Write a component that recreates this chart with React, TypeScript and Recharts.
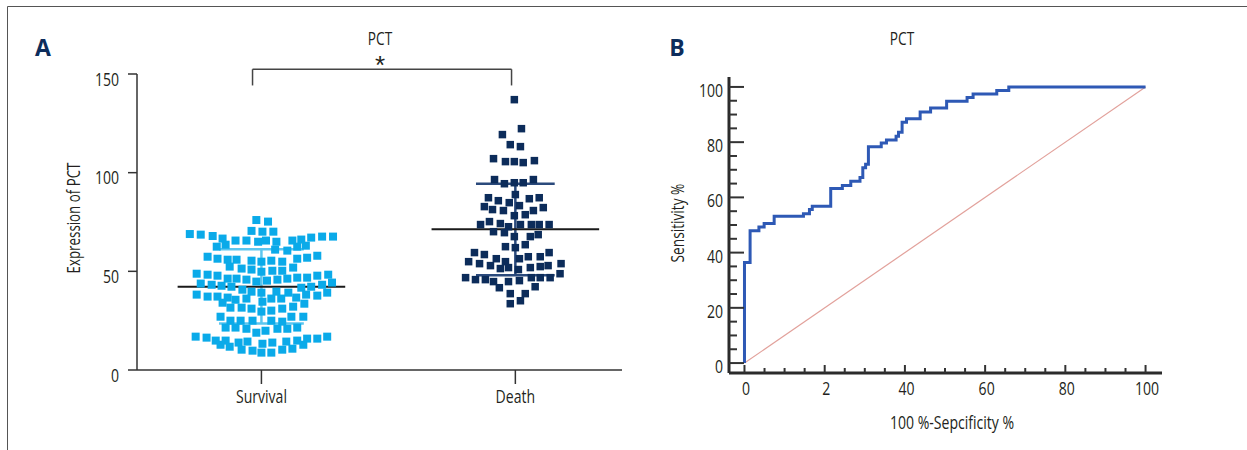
import React from 'react';
import { ScatterChart, Scatter, XAxis, YAxis, ReferenceLine, LineChart, Line } from 'recharts';

const FONT = '"Open Sans", "Noto Sans", sans-serif';
const SX = 0.74;
const TEXT = '#231f20';
const NAVY = '#0d2d5c';

// ---------- Panel A data ----------
const groupNames = ['Survival', 'Death'];
const groupTicks = [1, 2];
const yTicksA = [0, 50, 100, 150];

const survivalOffsets = [-0.020, 0.026, -0.039, 0.004, 0.047, -0.282, -0.239, -0.192, -0.153, -0.102, -0.059, -0.013, 0.018, 0.059, 0.122, 0.157, 0.196, 0.239, 0.282, -0.176, -0.141, 0.054, 0.102, 0.141, 0.175, -0.212, -0.173, -0.133, -0.098, -0.039, 0, 0.039, 0.082, 0.141, 0.180, 0.220, -0.125, -0.078, -0.039, 0, 0.043, 0.082, 0.125, -0.255, -0.212, -0.173, -0.133, -0.098, -0.059, -0.020, 0.022, 0.063, 0.102, 0.141, 0.180, 0.220, 0.263, -0.239, -0.196, -0.157, -0.118, 0.157, 0.196, 0.239, 0.278, -0.075, -0.039, 0, 0.059, 0.106, 0.137, 0.176, 0.220, 0.259, -0.255, -0.212, -0.173, -0.133, -0.102, -0.059, 0.004, 0.039, 0.078, -0.153, -0.122, -0.078, -0.039, 0, 0.039, 0.082, 0.125, 0.169, -0.161, -0.122, -0.082, -0.035, 0.039, 0.082, 0.118, 0.165, -0.141, -0.102, -0.059, -0.020, 0.016, 0.063, 0.102, 0.141, -0.259, -0.216, -0.180, -0.141, -0.161, -0.125, -0.090, -0.055, -0.078, -0.035, 0.004, 0.043, 0, 0.039, 0.082, 0.098, 0.141, 0.122, 0.165, 0.180, 0.220, 0.259];
const survivalValues = [76.0, 75.2, 70.5, 70.1, 70.1, 68.9, 68.6, 67.9, 66.6, 65.6, 65.6, 65.0, 65.6, 65.0, 65.6, 66.1, 67.1, 67.6, 67.6, 62.5, 63.5, 61.0, 60.5, 62.5, 63.0, 57.4, 56.4, 55.9, 55.9, 55.4, 54.9, 55.4, 54.9, 56.4, 56.9, 57.9, 52.4, 51.4, 50.9, 49.8, 50.3, 50.3, 51.9, 48.8, 48.3, 47.8, 46.3, 46.3, 45.8, 44.8, 45.3, 45.8, 46.3, 46.8, 46.8, 47.8, 48.3, 43.8, 43.2, 42.7, 42.2, 41.7, 42.2, 43.2, 44.3, 40.7, 39.7, 39.2, 39.7, 39.2, 36.7, 38.2, 37.7, 39.2, 38.2, 37.2, 37.2, 36.7, 35.6, 36.2, 34.6, 36.2, 36.2, 34.1, 31.6, 31.6, 31.1, 29.6, 30.1, 31.1, 32.1, 33.6, 27.0, 25.0, 25.0, 25.0, 25.0, 24.5, 27.0, 27.0, 21.5, 21.5, 20.9, 18.9, 19.9, 20.9, 20.9, 21.5, 16.9, 16.4, 14.9, 14.9, 12.8, 11.8, 13.9, 14.4, 10.3, 9.8, 13.3, 13.9, 8.8, 8.8, 10.3, 14.4, 14.9, 10.8, 12.8, 15.9, 15.9, 16.9];

const deathOffsets = [-0.004, 0.024, -0.051, -0.020, 0.020, -0.086, -0.039, -0.004, 0.031, 0.075, -0.082, -0.043, -0.004, 0.031, 0.071, 0, -0.106, -0.067, -0.024, 0.055, 0.094, -0.122, -0.090, -0.047, 0.016, 0.071, 0.110, -0.004, 0.039, -0.137, -0.102, -0.059, -0.027, 0.020, 0.063, 0.094, 0.133, -0.086, -0.043, -0.004, 0.059, 0.090, -0.039, 0, 0.039, -0.161, -0.122, -0.184, -0.141, -0.098, -0.075, -0.039, -0.059, -0.027, 0.016, 0.051, 0.098, 0.133, 0.180, 0.059, 0.098, 0.129, 0.012, -0.196, -0.157, -0.118, -0.086, -0.063, -0.027, 0.016, 0.063, 0.098, 0.137, 0.176, 0.078, -0.020, 0.039, -0.020, 0.020];
const deathValues = [137.0, 122.3, 119.3, 114.2, 113.2, 107.1, 105.6, 105.6, 105.1, 106.1, 96.5, 94.4, 94.9, 94.9, 96.5, 88.9, 87.3, 85.8, 84.8, 86.8, 87.3, 82.8, 81.3, 80.8, 83.3, 80.8, 82.3, 78.2, 78.7, 73.7, 75.2, 74.2, 72.6, 73.7, 73.7, 73.7, 73.7, 70.1, 69.6, 67.6, 67.6, 68.6, 62.5, 62.0, 63.5, 59.5, 58.5, 54.9, 53.9, 52.9, 56.4, 54.9, 51.4, 51.9, 56.4, 57.4, 57.4, 59.5, 53.9, 51.9, 52.4, 52.9, 50.9, 46.8, 45.8, 45.8, 44.8, 41.7, 44.8, 45.3, 46.8, 46.8, 46.8, 48.8, 42.2, 38.7, 38.7, 33.6, 35.1];

// mean, lower SD bound, upper SD bound
const survivalStats = [42.2, 23.6, 61.2];
const deathStats = [71.3, 48.0, 94.4];
const meanHalf = 0.33;
const sdHalf = [0.167, 0.155];

// significance bracket (x from, x to, y top, y drop)
const bracket = [0.965, 1.985, 152.4, 144.2];

// ---------- Panel B data ----------
const rocFpr = [0, 0, 1.4, 3.6, 4.9, 7.4, 14.7, 16.2, 16.9, 21.5, 24.4, 26.5, 28.8, 29.5, 30.2, 30.9, 34.1, 35.4, 37.8, 38.4, 39.3, 40.4, 43.8, 46.4, 50.4, 55.5, 57.0, 62.9, 65.9, 100];
const rocSens = [0, 36.4, 47.9, 49.3, 50.5, 53.2, 54.1, 55.6, 56.8, 63.2, 64.3, 65.8, 67.2, 70.7, 72.0, 78.3, 79.7, 80.8, 82.1, 83.6, 87.2, 88.5, 90.9, 92.4, 94.8, 96.2, 97.4, 98.7, 100, 100];
const refFpr = [0, 100];
const refSens = [0, 100];
const xTickLabelsB: Record<number, string> = { 0: '0', 20: '2', 40: '40', 60: '60', 80: '80', 100: '100' };
const minorTicksB = Array.from({ length: 21 }, (_, i) => i * 5);

const survivalData = survivalValues.map((v, i) => ({ x: groupTicks[0] + survivalOffsets[i], y: v }));
const deathData = deathValues.map((v, i) => ({ x: groupTicks[1] + deathOffsets[i], y: v }));
const rocData = rocFpr.map((x, i) => ({ x, y: rocSens[i] }));
const refData = refFpr.map((x, i) => ({ x, y: refSens[i] }));

const squareShape = (color: string, s: number) => (p: any) => (
  <rect x={p.cx - s / 2} y={p.cy - s / 2} width={s} height={s} fill={color} />
);

// condensed text: horizontally squeezed Open Sans
const CText = ({ x, y, anchor = 'middle', size = 19, rotate = 0, children }: any) => (
  <text
    transform={`translate(${x},${y}) rotate(${rotate}) scale(${SX},1)`}
    textAnchor={anchor}
    fontFamily={FONT}
    fontSize={size}
    fill={TEXT}
  >
    {children}
  </text>
);

const YTickA = (props: any) => {
  const { x, y, payload } = props;
  return (
    <g>
      <line x1={x - 9} x2={x} y1={y} y2={y} stroke="#333" strokeWidth={1.5} />
      <CText x={x - 18} y={y + 11.5} anchor="end">{payload.value}</CText>
    </g>
  );
};

const XTickA = (props: any) => {
  const { x, y, payload } = props;
  const idx = groupTicks.indexOf(payload.value);
  return (
    <g>
      <line x1={x} x2={x} y1={y} y2={y + 14} stroke="#333" strokeWidth={1.5} />
      <CText x={x} y={y + 32.5}>{groupNames[idx]}</CText>
    </g>
  );
};

const YTickB = (props: any) => {
  const { x, y, payload } = props;
  const v = payload.value;
  const major = v % 20 === 0;
  return (
    <g>
      <line x1={x} x2={x + (major ? 15 : 8)} y1={y} y2={y} stroke="#333" strokeWidth={2} />
      {major && <CText x={x - 6} y={y + 10} anchor="end">{v}</CText>}
    </g>
  );
};

const XTickB = (props: any) => {
  const { x, y, payload } = props;
  const v = payload.value;
  const major = v % 20 === 0;
  return (
    <g>
      <line x1={x} x2={x} y1={y} y2={y - (major ? 8 : 5)} stroke="#333" strokeWidth={2} />
      {major && <CText x={x + 1.5} y={y + 22}>{xTickLabelsB[v]}</CText>}
    </g>
  );
};

export default function App() {
  const [sm, sLo, sHi] = survivalStats;
  const [dm, dLo, dHi] = deathStats;
  const [bx0, bx1, by, byDrop] = bracket;
  return (
    <div style={{ position: 'absolute', left: 0, top: 0, width: 1247, height: 450, background: '#fff', overflow: 'hidden' }}>
      <div style={{ position: 'absolute', left: 0, top: 0 }}>
        <ScatterChart width={640} height={450} margin={{ top: 74, right: 18, bottom: 50, left: 0 }}>
          <XAxis type="number" dataKey="x" domain={[0.51, 2.42]} allowDataOverflow ticks={groupTicks} interval={0}
            tickSize={0} tickMargin={0} tick={<XTickA />} axisLine={{ stroke: '#333', strokeWidth: 1.5 }} tickLine={false} height={30} />
          <YAxis type="number" dataKey="y" domain={[0, 150]} allowDataOverflow ticks={yTicksA} interval={0}
            tickSize={0} tickMargin={0} tick={<YTickA />} axisLine={{ stroke: '#333', strokeWidth: 1.5 }} tickLine={false} width={137} />
          <Scatter data={survivalData} isAnimationActive={false} shape={squareShape('#0aaae9', 8)} />
          <Scatter data={deathData} isAnimationActive={false} shape={squareShape('#0c2c5a', 7.5)} />
          {/* Survival mean & SD */}
          <ReferenceLine segment={[{ x: 1 - sdHalf[0], y: sHi }, { x: 1 + sdHalf[0], y: sHi }]} stroke="#5cc6ef" strokeWidth={2.5} />
          <ReferenceLine segment={[{ x: 1 - sdHalf[0], y: sLo }, { x: 1 + sdHalf[0], y: sLo }]} stroke="#5cc6ef" strokeWidth={2.5} />
          <ReferenceLine segment={[{ x: 1, y: sLo }, { x: 1, y: sHi }]} stroke="#5cc6ef" strokeWidth={2.5} />
          <ReferenceLine segment={[{ x: 1 - meanHalf, y: sm }, { x: 1 + meanHalf, y: sm }]} stroke="#1a1a1a" strokeWidth={2} />
          {/* Death mean & SD */}
          <ReferenceLine segment={[{ x: 2 - sdHalf[1], y: dHi }, { x: 2 + sdHalf[1], y: dHi }]} stroke="#2b4a7c" strokeWidth={2.5} />
          <ReferenceLine segment={[{ x: 2 - sdHalf[1], y: dLo }, { x: 2 + sdHalf[1], y: dLo }]} stroke="#2b4a7c" strokeWidth={2.5} />
          <ReferenceLine segment={[{ x: 2, y: dLo }, { x: 2, y: dHi }]} stroke="#2b4a7c" strokeWidth={2.5} />
          <ReferenceLine segment={[{ x: 2 - meanHalf, y: dm }, { x: 2 + meanHalf, y: dm }]} stroke="#1a1a1a" strokeWidth={2} />
          {/* Bracket */}
          <ReferenceLine ifOverflow="visible" segment={[{ x: bx0, y: by }, { x: bx1, y: by }]} stroke="#444" strokeWidth={1.5} />
          <ReferenceLine ifOverflow="visible" segment={[{ x: bx0, y: by }, { x: bx0, y: byDrop }]} stroke="#444" strokeWidth={1.5} />
          <ReferenceLine ifOverflow="visible" segment={[{ x: bx1, y: by }, { x: bx1, y: byDrop }]} stroke="#444" strokeWidth={1.5} />
        </ScatterChart>
      </div>
      <div style={{ position: 'absolute', left: 640, top: 0 }}>
        <LineChart width={607} height={450} margin={{ top: 77, right: 85, bottom: 47, left: 0 }}>
          <XAxis type="number" dataKey="x" domain={[-3.86, 104.1]} allowDataOverflow ticks={minorTicksB} interval={0}
            tickSize={0} tickMargin={0} tick={<XTickB />} axisLine={{ stroke: '#2b2b2b', strokeWidth: 3 }} tickLine={false} height={30} />
          <YAxis type="number" dataKey="y" domain={[-3.6, 103.6]} allowDataOverflow ticks={minorTicksB} interval={0}
            tickSize={0} tickMargin={0} tick={<YTickB />} axisLine={{ stroke: '#2b2b2b', strokeWidth: 3 }} tickLine={false} width={89} />
          <Line data={refData} dataKey="y" type="linear" stroke="#e2a19b" strokeWidth={1.2} dot={false} isAnimationActive={false} />
          <Line data={rocData} dataKey="y" type="stepAfter" stroke="#2e59b5" strokeWidth={3} dot={false} isAnimationActive={false} />
        </LineChart>
      </div>
      <svg width={1247} height={450} style={{ position: 'absolute', left: 0, top: 0, pointerEvents: 'none' }}>
        <line x1={7.5} y1={6.5} x2={1247} y2={6.5} stroke="#555" strokeWidth={1} />
        <line x1={7.5} y1={6.5} x2={7.5} y2={450} stroke="#555" strokeWidth={1} />
        <text x={43} y={56} textAnchor="middle" fontFamily='"Open Sans", "Liberation Sans", sans-serif' fontWeight="bold" fontSize={23} fill={NAVY}>A</text>
        <text x={677} y={56} textAnchor="middle" fontFamily='"Open Sans", "Liberation Sans", sans-serif' fontWeight="bold" fontSize={23} fill={NAVY}>B</text>
        <CText x={380} y={45} size={18.5}>PCT</CText>
        <text x={380} y={74} textAnchor="middle" fontFamily='"Liberation Sans", Arial, sans-serif' fontSize={26} fill={TEXT}>*</text>
        <CText x={902} y={45} size={18.5}>PCT</CText>
        <CText x={80} y={218} size={18} rotate={-90}>Expression of PCT</CText>
        <CText x={683.5} y={223} size={18.5} rotate={-90}>Sensitivity %</CText>
        <CText x={952} y={429} size={19}>100 %-Sepcificity %</CText>
      </svg>
    </div>
  );
}
